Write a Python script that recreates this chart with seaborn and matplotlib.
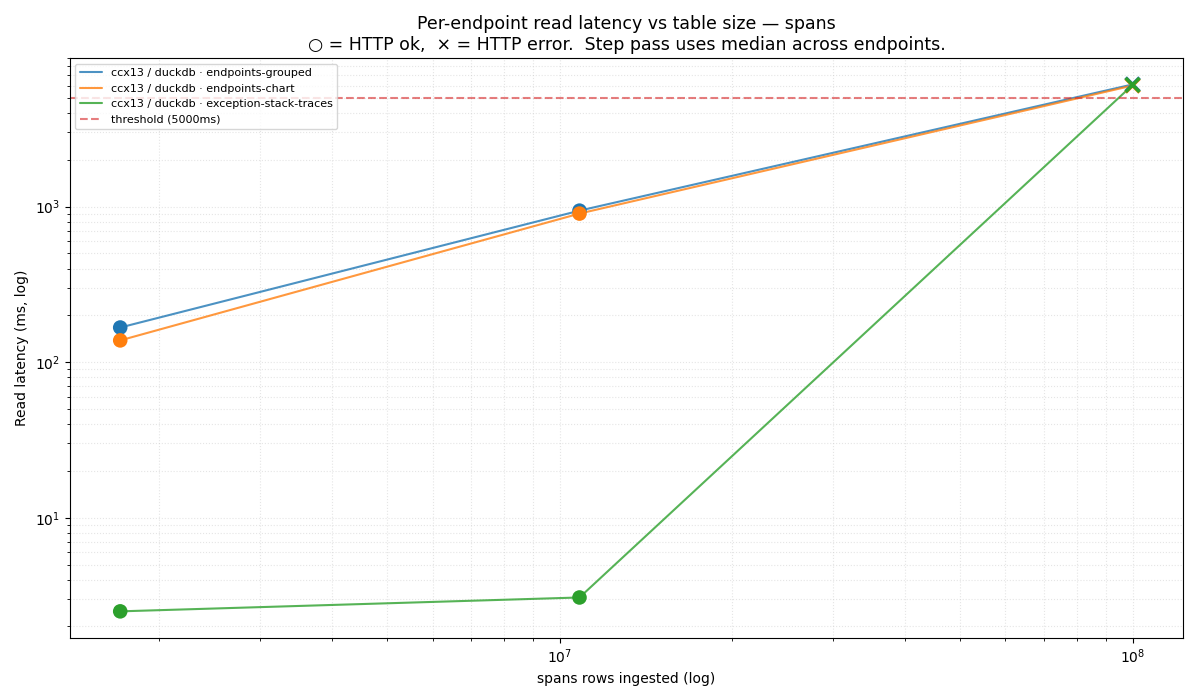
import pandas as pd
import seaborn as sns
import matplotlib
matplotlib.use('Agg')
import matplotlib.pyplot as plt

# rows ingested at each step (log x)
rows = [1.71e6, 1.083e7, 1.0e8]

endpoints = ['ccx13 / duckdb · endpoints-grouped',
             'ccx13 / duckdb · endpoints-chart',
             'ccx13 / duckdb · exception-stack-traces']

# read latency in ms, one list per endpoint
grouped_ms = [167, 942, 6100]
chart_ms = [138, 902, 6000]
traces_ms = [2.5, 3.07, 6050]

# http status per step: True = ok, False = error
grouped_ok = [True, True, False]
chart_ok = [True, True, False]
traces_ok = [True, True, False]

threshold_ms = 5000

df = pd.DataFrame({
    'rows': rows * 3,
    'latency': grouped_ms + chart_ms + traces_ms,
    'ok': grouped_ok + chart_ok + traces_ok,
    'endpoint': [e for e in endpoints for _ in rows],
})

sns.set_style('ticks', {'axes.edgecolor': 'black', 'text.color': 'black',
                        'axes.labelcolor': 'black', 'xtick.color': 'black',
                        'ytick.color': 'black'})
plt.rcParams['font.family'] = ['DejaVu Sans']

fig, ax = plt.subplots(figsize=(12, 7), dpi=100)
palette = dict(zip(endpoints, sns.color_palette('tab10', 3)))

sns.lineplot(data=df, x='rows', y='latency', hue='endpoint', palette=palette,
             alpha=0.8, linewidth=1.5, ax=ax)
sns.scatterplot(data=df[df['ok']], x='rows', y='latency', hue='endpoint',
                palette=palette, marker='o', s=110, edgecolor='none',
                legend=False, ax=ax, zorder=3)
sns.scatterplot(data=df[~df['ok']], x='rows', y='latency', hue='endpoint',
                palette=palette, marker='x', s=100, linewidth=2.5,
                legend=False, ax=ax, zorder=3)

ax.axhline(threshold_ms, color='tab:red', linestyle='--', alpha=0.6,
           linewidth=1.5, label=f'threshold ({threshold_ms}ms)')

ax.set_xscale('log')
ax.set_yscale('log')
ax.grid(True, which='both', linestyle=':', color='#cccccc', alpha=0.5)

ax.set_xlabel('spans rows ingested (log)')
ax.set_ylabel('Read latency (ms, log)')
ax.set_title('Per-endpoint read latency vs table size — spans\n'
             '○ = HTTP ok,  × = HTTP error.  Step pass uses median across endpoints.',
             fontsize=12.5)

ax.legend(loc='upper left', fontsize=8, title=None)
for sp in ax.spines.values():
    sp.set_visible(True)

fig.subplots_adjust(left=0.058, right=0.986, top=0.917, bottom=0.089)
fig.savefig('out.png')
